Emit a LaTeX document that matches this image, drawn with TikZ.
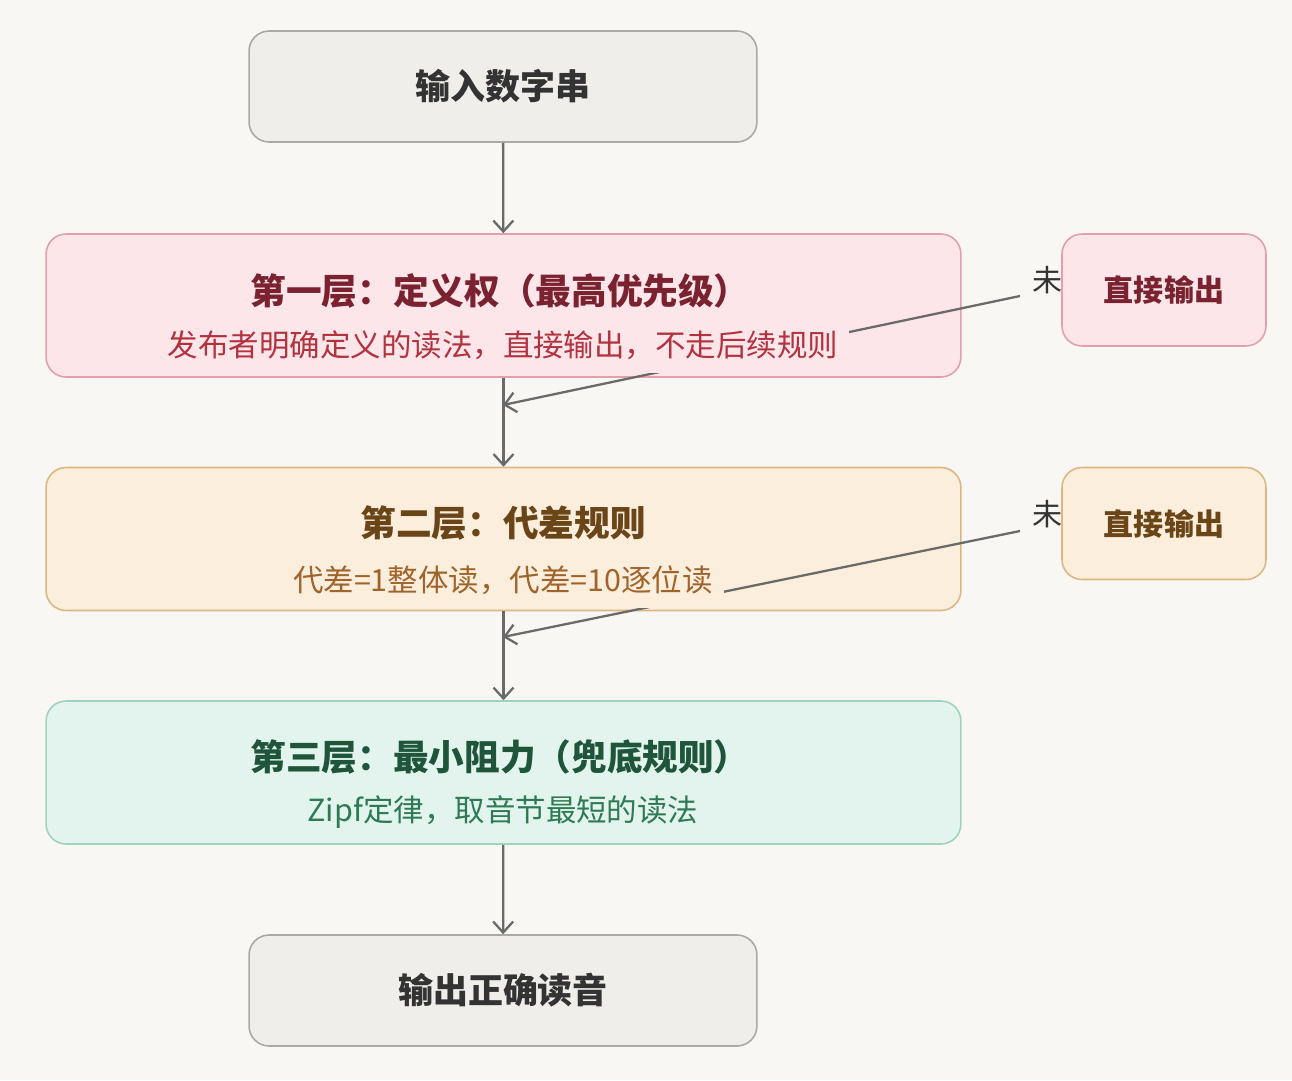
\documentclass[tikz,border=0pt]{standalone}
\usepackage{fontspec}
\setmainfont{Noto Sans CJK SC}
\usetikzlibrary{arrows.meta}
\definecolor{bgc}{HTML}{F8F7F3}
\definecolor{grayfill}{HTML}{EFEEEA}
\definecolor{graydraw}{HTML}{A9A9A5}
\definecolor{graytext}{HTML}{333333}
\definecolor{pinkfill}{HTML}{FCE6E9}
\definecolor{pinkdraw}{HTML}{E4A0A8}
\definecolor{pinktitle}{HTML}{7B2230}
\definecolor{pinksub}{HTML}{B2323F}
\definecolor{orangefill}{HTML}{FCEEDC}
\definecolor{orangedraw}{HTML}{DDB683}
\definecolor{orangetitle}{HTML}{6A4517}
\definecolor{orangesub}{HTML}{A0642B}
\definecolor{greenfill}{HTML}{E2F4ED}
\definecolor{greendraw}{HTML}{9FD3BF}
\definecolor{greentitle}{HTML}{1F553B}
\definecolor{greensub}{HTML}{2E7A55}
\definecolor{linec}{HTML}{6A6A6A}
\begin{document}
\begin{tikzpicture}[x=0.02cm,y=-0.02cm,
  box/.style={draw,rounded corners=0.4cm,line width=0.9pt,inner sep=0pt},
  endbox/.style={box,fill=grayfill,draw=graydraw,text=graytext,minimum width=10.16cm,minimum height=2.22cm,font=\fontsize{19.9pt}{24pt}\selectfont\bfseries},
  layerbox/.style={box,minimum width=18.3cm,minimum height=2.86cm},
  sidebox/.style={box,minimum width=4.08cm,minimum height=2.24cm,font=\fontsize{17.1pt}{20pt}\selectfont\bfseries},
  title/.style={inner sep=0pt,font=\fontsize{20.3pt}{24pt}\selectfont\bfseries},
  sub/.style={inner xsep=0.22cm,inner ysep=0pt,minimum height=1.1cm,font=\fontsize{17.35pt}{21pt}\selectfont},
  miss/.style={anchor=west,inner sep=0pt,text=graytext,font=\fontsize{17.1pt}{20pt}\selectfont},
  flow/.style={draw=linec,line width=1.3pt,-{Straight Barb[length=0.22cm,width=0.4cm]}}]
\fill[bgc] (0,0) rectangle (1292,1080);
\useasboundingbox (0,0) rectangle (1292,1080);
% boxes
\node[endbox](in) at (503,86.5){};
\node[layerbox,fill=pinkfill,draw=pinkdraw](l1) at (503.5,305.5){};
\node[layerbox,fill=orangefill,draw=orangedraw](l2) at (503.5,539){};
\node[layerbox,fill=greenfill,draw=greendraw](l3) at (503.5,772.5){};
\node[endbox](out) at (503,990.5){};
% labels of the side edges, partly under the side boxes
\node[miss](m1) at (1032,280){未};
\node[miss](m2) at (1032,514){未};
\node[sidebox,fill=pinkfill,draw=pinkdraw,text=pinktitle](s1) at (1164,290){直接输出};
\node[sidebox,fill=orangefill,draw=orangedraw,text=orangetitle](s2) at (1164,523.5){直接输出};
\coordinate (miss1) at (1020,296);
\coordinate (join1) at (503,405);
\coordinate (miss2) at (1020,531);
\coordinate (join2) at (503,637);
% connectors
\draw[flow] (in) -- (l1);
\draw[flow] (l1) -- (l2);
\draw[flow] (l2) -- (l3);
\draw[flow] (l3) -- (out);
\draw[flow] (miss1) -- (join1);
\draw[flow] (miss2) -- (join2);
% texts
\node[text=graytext,font=\fontsize{19.9pt}{24pt}\selectfont\bfseries](int) at (in){输入数字串};
\node[text=graytext,font=\fontsize{19.9pt}{24pt}\selectfont\bfseries](outt) at (out){输出正确读音};
\node[title,text=pinktitle](l1t) at (500,291){第一层：定义权（最高优先级）};
\node[sub,fill=pinkfill,text=pinksub](l1s) at (503,345){发布者明确定义的读法，直接输出，不走后续规则};
\node[title,text=orangetitle](l2t) at (503,523){第二层：代差规则};
\node[sub,fill=orangefill,text=orangesub](l2s) at (503,580){代差=1整体读，代差=10逐位读};
\node[title,text=greentitle](l3t) at (500,757){第三层：最小阻力（兜底规则）};
\node[sub,fill=greenfill,text=greensub](l3s) at (503,812){Zipf定律，取音节最短的读法};
\end{tikzpicture}
\end{document}
